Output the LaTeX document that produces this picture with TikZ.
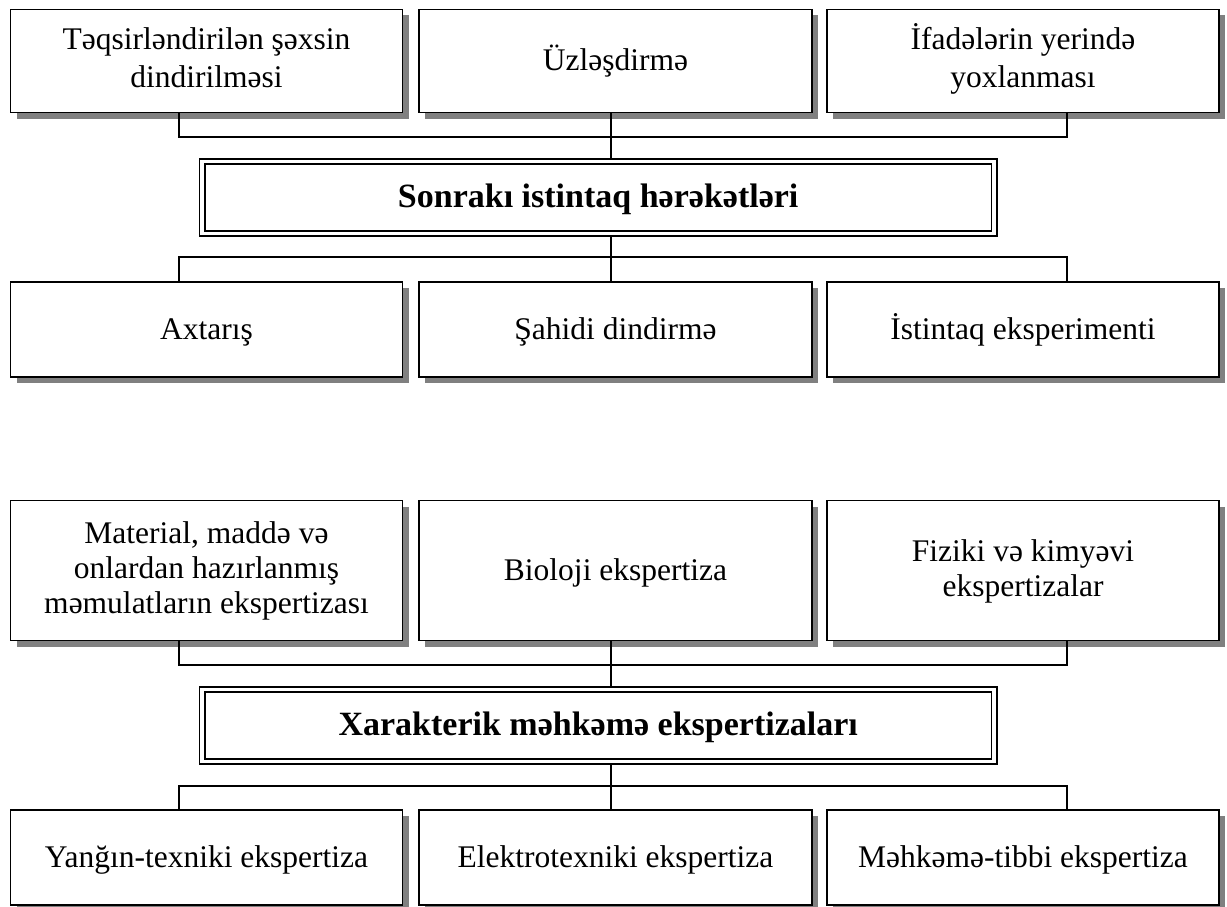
\documentclass[tikz,border=0pt]{standalone}
\usepackage{fontspec}
\setmainfont{Liberation Serif}
\usetikzlibrary{shadows}
\begin{document}
\begin{tikzpicture}[x=1pt,y=-1pt,
  box/.style={draw=black, line width=1.8pt, fill=white, inner sep=0pt, align=center,
    font=\fontsize{31.5}{38}\selectfont,
    drop shadow={shadow xshift=6pt, shadow yshift=-6pt, fill=black!50, opacity=1}},
  topbox/.style={box, minimum width=392pt, minimum height=103pt},
  botbox/.style={box, minimum width=392pt, minimum height=95pt},
  mainbox/.style={draw=black, line width=1.8pt, double=white, double distance=3.5pt,
    fill=white, inner sep=0pt, minimum width=792pt, minimum height=72pt,
    font=\fontsize{34}{40}\selectfont\bfseries, text height=26pt, text depth=7pt},
  one/.style={text height=26pt, text depth=7pt},
  two/.style={text height=64pt, text depth=10pt},
  twob/.style={font=\fontsize{31.5}{35}\selectfont, text height=61pt, text depth=10pt},
  three/.style={font=\fontsize{31.5}{35}\selectfont, text height=96pt, text depth=10pt},
  conn/.style={draw=black, line width=1.8pt}
]
\useasboundingbox (0,0) rectangle (1227,907);

% ---------- group 1 ----------
\coordinate (h1) at (611,137);
\coordinate (h1b) at (611,257);
\node[topbox, two] (t1) at (206.5,61) {Təqsirləndirilən şəxsin\\dindirilməsi};
\node[topbox, one, minimum width=393pt] (t2) at (615.5,61) {Üzləşdirmə};
\node[topbox, two] (t3) at (1023,61) {İfadələrin yerində\\yoxlanması};
\node[botbox, one] (b1) at (206.5,329.5) {Axtarış};
\node[botbox, one, minimum width=393pt] (b2) at (615.5,329.5) {Şahidi dindirmə};
\node[botbox, one] (b3) at (1023,329.5) {İstintaq eksperimenti};

\draw[conn] ([xshift=-27.5pt]t1.south) |- (h1) -| ([xshift=44pt]t3.south);
\draw[conn] (t2.south -| h1) -- (h1) -- ++(0,24);
\draw[conn] ([xshift=-27.5pt]b1.north) |- (h1b) -| ([xshift=44pt]b3.north);
\draw[conn] (b2.north -| h1b) -- (h1b) -- ++(0,-24);
\node[mainbox] (m1) at (598.2,197.5) {Sonrakı istintaq hərəkətləri};

% ---------- group 2 ----------
\coordinate (h2) at (611,665);
\coordinate (h2b) at (611,786);
\node[topbox, three, minimum height=140pt] (u1) at (206.5,570.5) {Material, maddə və\\onlardan hazırlanmış\\məmulatların ekspertizası};
\node[topbox, one, minimum height=140pt, minimum width=393pt] (u2) at (615.5,570.5) {Bioloji ekspertiza};
\node[topbox, twob, minimum height=140pt] (u3) at (1023,570.5) {Fiziki və kimyəvi\\ekspertizalar};
\node[botbox, one] (d1) at (206.5,857.5) {Yanğın-texniki ekspertiza};
\node[botbox, one, minimum width=393pt] (d2) at (615.5,857.5) {Elektrotexniki ekspertiza};
\node[botbox, one] (d3) at (1023,857.5) {Məhkəmə-tibbi ekspertiza};

\draw[conn] ([xshift=-27.5pt]u1.south) |- (h2) -| ([xshift=44pt]u3.south);
\draw[conn] (u2.south -| h2) -- (h2) -- ++(0,21);
\draw[conn] ([xshift=-27.5pt]d1.north) |- (h2b) -| ([xshift=44pt]d3.north);
\draw[conn] (d2.north -| h2b) -- (h2b) -- ++(0,-21);
\node[mainbox] (m2) at (598.2,725.5) {Xarakterik məhkəmə ekspertizaları};
\end{tikzpicture}
\end{document}
